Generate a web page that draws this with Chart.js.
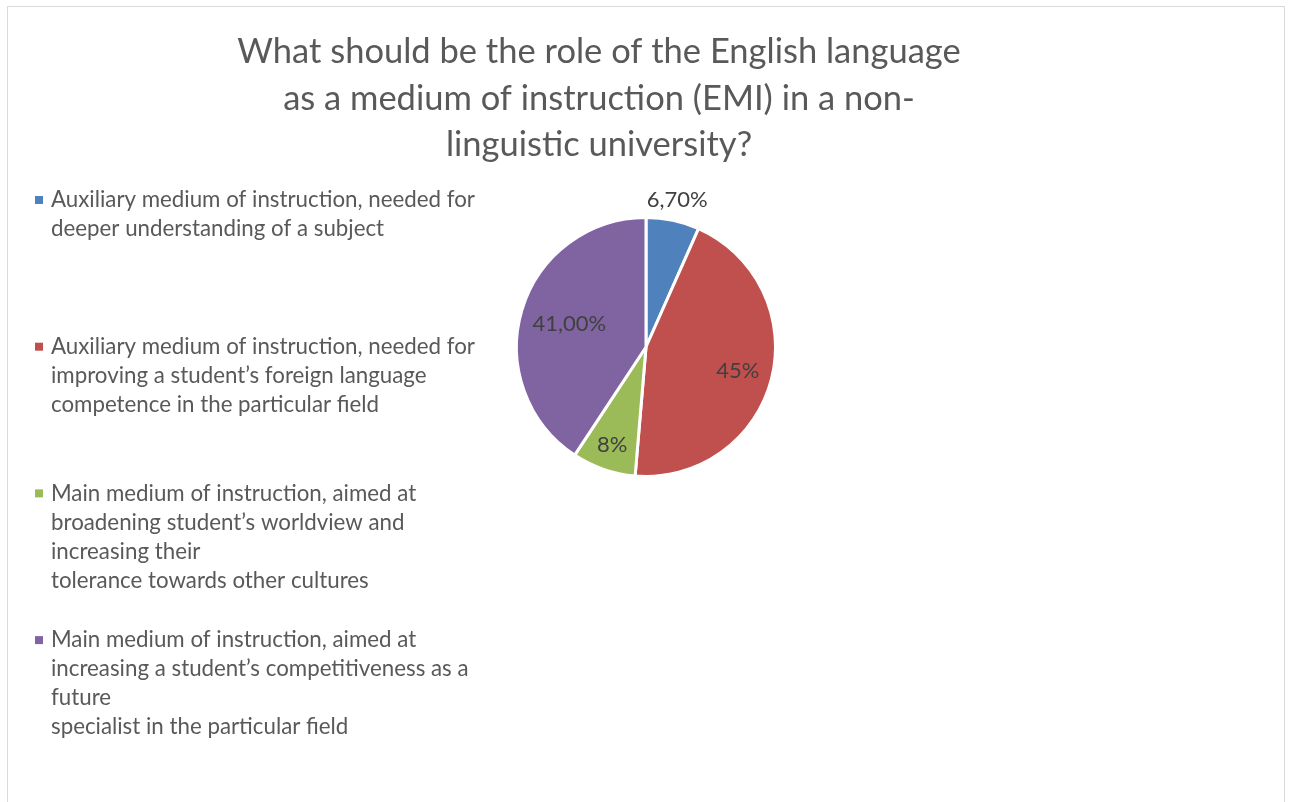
<!DOCTYPE html>
<html>
<head>
<meta charset="utf-8">
<script src="https://cdn.jsdelivr.net/npm/chart.js@4.4.1/dist/chart.umd.min.js"></script>
<style>
  body { margin: 0; background: #fff; }
  #frame { position: absolute; left: 7px; top: 6px; width: 1276px; height: 830px; border: 1px solid #d9d9d9; }
  #wrap { position: absolute; left: 0; top: 0; width: 1291px; height: 802px; }
</style>
</head>
<body>
<div id="frame"></div>
<div id="wrap"><canvas id="pie"></canvas></div>
<script>
const titleLines = [
    "What should be the role of the English language",
    "as a medium of instruction (EMI) in a non-",
    "linguistic university?"
];
const categories = [
    ["Auxiliary medium of instruction, needed for", "deeper understanding of a subject"],
    ["Auxiliary medium of instruction, needed for", "improving a student\u2019s foreign language", "competence in the particular field"],
    ["Main medium of instruction, aimed at", "broadening student\u2019s worldview and", "increasing their", "tolerance towards other cultures"],
    ["Main medium of instruction, aimed at", "increasing a student\u2019s competitiveness as a", "future", "specialist in the particular field"]
];
const values = [6.7, 45, 8, 41];
const valueLabels = ["6,70%", "45%", "8%", "41,00%"];
const sliceColors = ["#4F81BD", "#C0504D", "#9BBB59", "#8064A2"];

const FONT = "Lato, 'Open Sans', sans-serif";

// title and legend drawn beside the pie
const sideText = {
    id: "sideText",
    afterDraw(chart) {
        const ctx = chart.ctx;
        ctx.save();
        ctx.textBaseline = "middle";
        ctx.fillStyle = "#595959";
        ctx.textAlign = "center";
        ctx.font = "34.5px " + FONT;
        titleLines.forEach((t, i) => ctx.fillText(t, 599, 52 + i * 46.5));

        ctx.textAlign = "left";
        ctx.font = "22.3px " + FONT;
        const ds = chart.data.datasets[0];
        categories.forEach((lines, i) => {
            const y0 = 200 + i * 146.7;
            ctx.fillStyle = ds.backgroundColor[i];
            ctx.fillRect(35, y0 - 4, 8, 8);
            ctx.fillStyle = "#595959";
            lines.forEach((l, j) => ctx.fillText(l, 51, y0 + j * 29));
        });
        ctx.restore();
    }
};

// value labels: inside near the rim, outside for narrow slices
const sliceLabels = {
    id: "sliceLabels",
    afterDatasetsDraw(chart) {
        const ctx = chart.ctx;
        const meta = chart.getDatasetMeta(0);
        const size = 22;
        ctx.save();
        ctx.font = size + "px " + FONT;
        ctx.fillStyle = "#404040";
        ctx.textAlign = "center";
        ctx.textBaseline = "middle";
        meta.data.forEach((arc, i) => {
            const p = arc.getProps(["x", "y", "startAngle", "endAngle", "outerRadius"], true);
            const mid = (p.startAngle + p.endAngle) / 2;
            const cx = Math.cos(mid), cy = Math.sin(mid);
            const w = ctx.measureText(valueLabels[i]).width;
            const ext = w / 2 * Math.abs(cx) + size / 2 * Math.abs(cy);
            const outside = p.endAngle - p.startAngle < 0.45;
            const r = outside ? p.outerRadius + ext + 4 : p.outerRadius - ext - 11;
            ctx.fillText(valueLabels[i], p.x + cx * r, p.y + cy * r);
        });
        ctx.restore();
    }
};

new Chart(document.getElementById("pie"), {
    type: "pie",
    data: {
        labels: categories.map((c) => c.join(" ")),
        datasets: [{
            data: values,
            backgroundColor: sliceColors,
            borderColor: "#fff",
            borderWidth: 3
        }]
    },
    options: {
        responsive: true,
        maintainAspectRatio: false,
        animation: false,
        layout: { padding: { left: 515, right: 514, top: 216, bottom: 324 } },
        plugins: {
            legend: { display: false },
            title: { display: false },
            tooltip: { enabled: false }
        }
    },
    plugins: [sliceLabels, sideText]
});
</script>
</body>
</html>
